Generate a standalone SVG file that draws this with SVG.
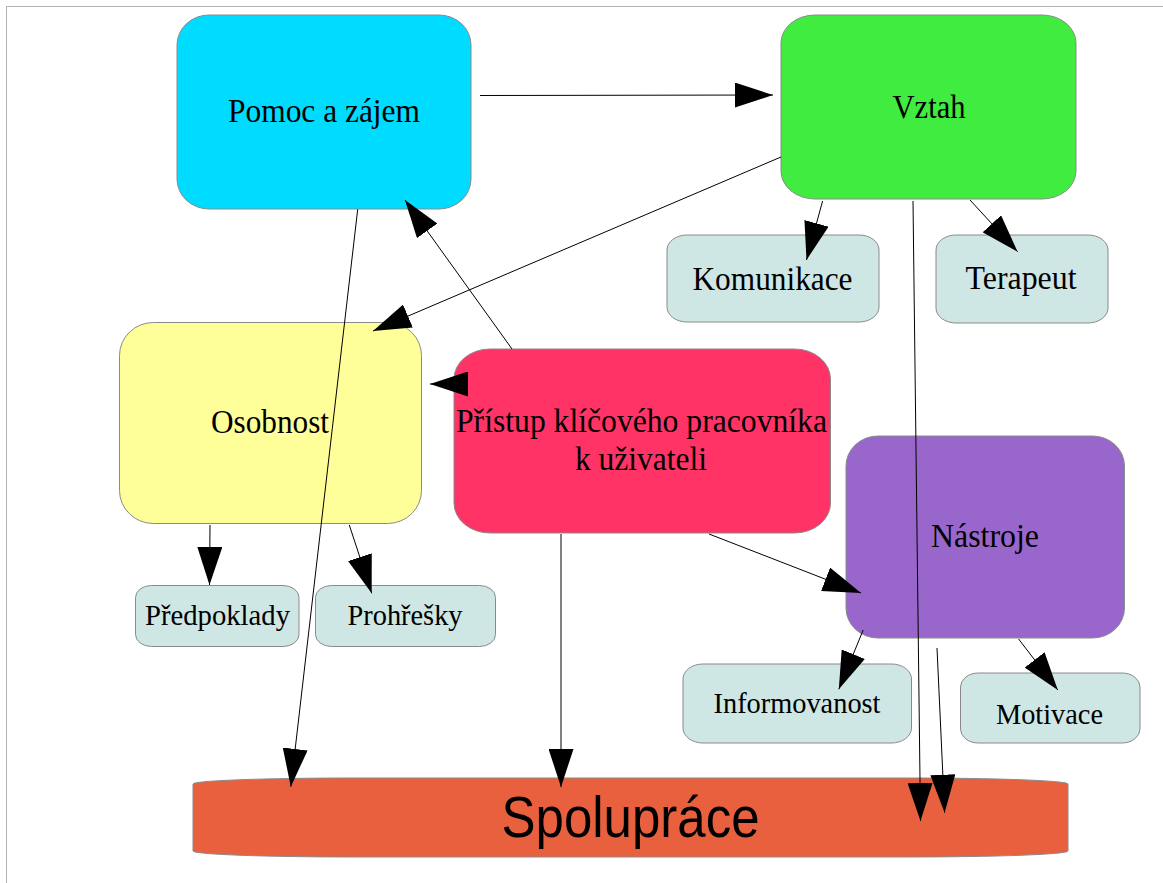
<svg xmlns="http://www.w3.org/2000/svg" width="1163" height="883" viewBox="0 0 1163 883">
<defs>
<style>
.n{stroke:#8a8a8a;stroke-width:1}
.t{font-family:"Liberation Serif","Times New Roman",serif;font-size:34px;fill:#000;text-anchor:middle}
.s{font-size:30px}
.c line{stroke:#000;stroke-width:1;marker-end:url(#ah)}
</style>
<marker id="ah" markerUnits="userSpaceOnUse" markerWidth="38" markerHeight="25" refX="38" refY="12.5" orient="auto" viewBox="0 0 38 25">
<path d="M0,0 L38,12.5 L0,25 Z" fill="#000"/>
</marker>
</defs>
<rect x="0" y="0" width="1163" height="883" fill="#fff"/>
<rect x="6.5" y="6.5" width="1170" height="890" fill="none" stroke="#b3b3b3" stroke-width="1"/>

<g id="pomoc">
<rect class="n" x="177" y="15" width="294" height="194" rx="32" ry="30" fill="#00dcff"/>
<text class="t" x="324" y="122" textLength="192" lengthAdjust="spacingAndGlyphs">Pomoc a zájem</text>
</g>
<g id="vztah">
<rect class="n" x="781" y="15" width="295" height="184" rx="34" ry="28" fill="#3fec3f"/>
<text class="t" x="929" y="118" textLength="73" lengthAdjust="spacingAndGlyphs">Vztah</text>
</g>
<g id="komunikace">
<rect class="n" x="667" y="235" width="212" height="87" rx="20" ry="15" fill="#cfe7e4"/>
<text class="t" x="772.5" y="290" textLength="160" lengthAdjust="spacingAndGlyphs">Komunikace</text>
</g>
<g id="terapeut">
<rect class="n" x="936" y="235" width="172" height="88" rx="20" ry="15" fill="#cfe7e4"/>
<text class="t" x="1021" y="289" textLength="111" lengthAdjust="spacingAndGlyphs">Terapeut</text>
</g>
<g id="osobnost">
<rect class="n" x="119.5" y="322.5" width="302" height="201" rx="34" ry="33" fill="#ffff99"/>
<text class="t" x="270" y="433" textLength="118" lengthAdjust="spacingAndGlyphs">Osobnost</text>
</g>
<g id="predpoklady">
<rect class="n" x="135.5" y="585.5" width="163.5" height="61" rx="16" ry="12" fill="#cfe7e4"/>
<text class="t s" x="217.5" y="625" textLength="145" lengthAdjust="spacingAndGlyphs">Předpoklady</text>
</g>
<g id="prohresky">
<rect class="n" x="315.5" y="585.5" width="180" height="61" rx="16" ry="12" fill="#cfe7e4"/>
<text class="t s" x="405" y="625" textLength="115" lengthAdjust="spacingAndGlyphs">Prohřešky</text>
</g>
<g id="pristup">
<rect class="n" x="454" y="349" width="376.5" height="184" rx="36" ry="30" fill="#ff3366"/>
<text class="t" x="641.5" y="432" textLength="371" lengthAdjust="spacingAndGlyphs">Přístup klíčového pracovníka</text>
<text class="t" x="641" y="470" textLength="132" lengthAdjust="spacingAndGlyphs">k uživateli</text>
</g>
<g id="nastroje">
<rect class="n" x="846" y="436" width="278.5" height="202" rx="32" ry="30" fill="#9966cc"/>
<text class="t" x="985" y="547" textLength="108" lengthAdjust="spacingAndGlyphs">Nástroje</text>
</g>
<g id="informovanost">
<rect class="n" x="683" y="664" width="228.5" height="79" rx="20" ry="15" fill="#cfe7e4"/>
<text class="t s" x="797" y="713" textLength="167" lengthAdjust="spacingAndGlyphs">Informovanost</text>
</g>
<g id="motivace">
<rect class="n" x="960.5" y="673" width="179.5" height="70" rx="18" ry="14" fill="#cfe7e4"/>
<text class="t s" x="1049.5" y="724" textLength="107" lengthAdjust="spacingAndGlyphs">Motivace</text>
</g>
<g id="spoluprace">
<rect class="n" x="193" y="778" width="875" height="79" rx="160" ry="6" fill="#e9603e"/>
<text x="630.5" y="837" font-family="Liberation Sans, Arial, sans-serif" font-size="57" text-anchor="middle" textLength="258" lengthAdjust="spacingAndGlyphs" fill="#000">Spolupráce</text>
</g>

<g id="connectors" class="c">
<line x1="480" y1="95.5" x2="773" y2="95"/>
<line x1="781" y1="157" x2="373" y2="331"/>
<line x1="512" y1="349" x2="405" y2="200"/>
<line x1="468" y1="384" x2="430" y2="384"/>
<line x1="357.7" y1="209.3" x2="290.8" y2="786.7"/>
<line x1="913" y1="201" x2="920.5" y2="821"/>
<line x1="937" y1="648" x2="944.6" y2="812.7"/>
<line x1="561" y1="534" x2="561" y2="787"/>
<line x1="709" y1="534" x2="861" y2="593"/>
<line x1="822.6" y1="201" x2="806.5" y2="260"/>
<line x1="970" y1="200" x2="1017.6" y2="251.7"/>
<line x1="210" y1="525" x2="209.5" y2="585"/>
<line x1="349.3" y1="525" x2="371.7" y2="593.3"/>
<line x1="863.2" y1="630" x2="838.8" y2="689.3"/>
<line x1="1018.6" y1="639" x2="1057.8" y2="690"/>
</g>
</svg>
